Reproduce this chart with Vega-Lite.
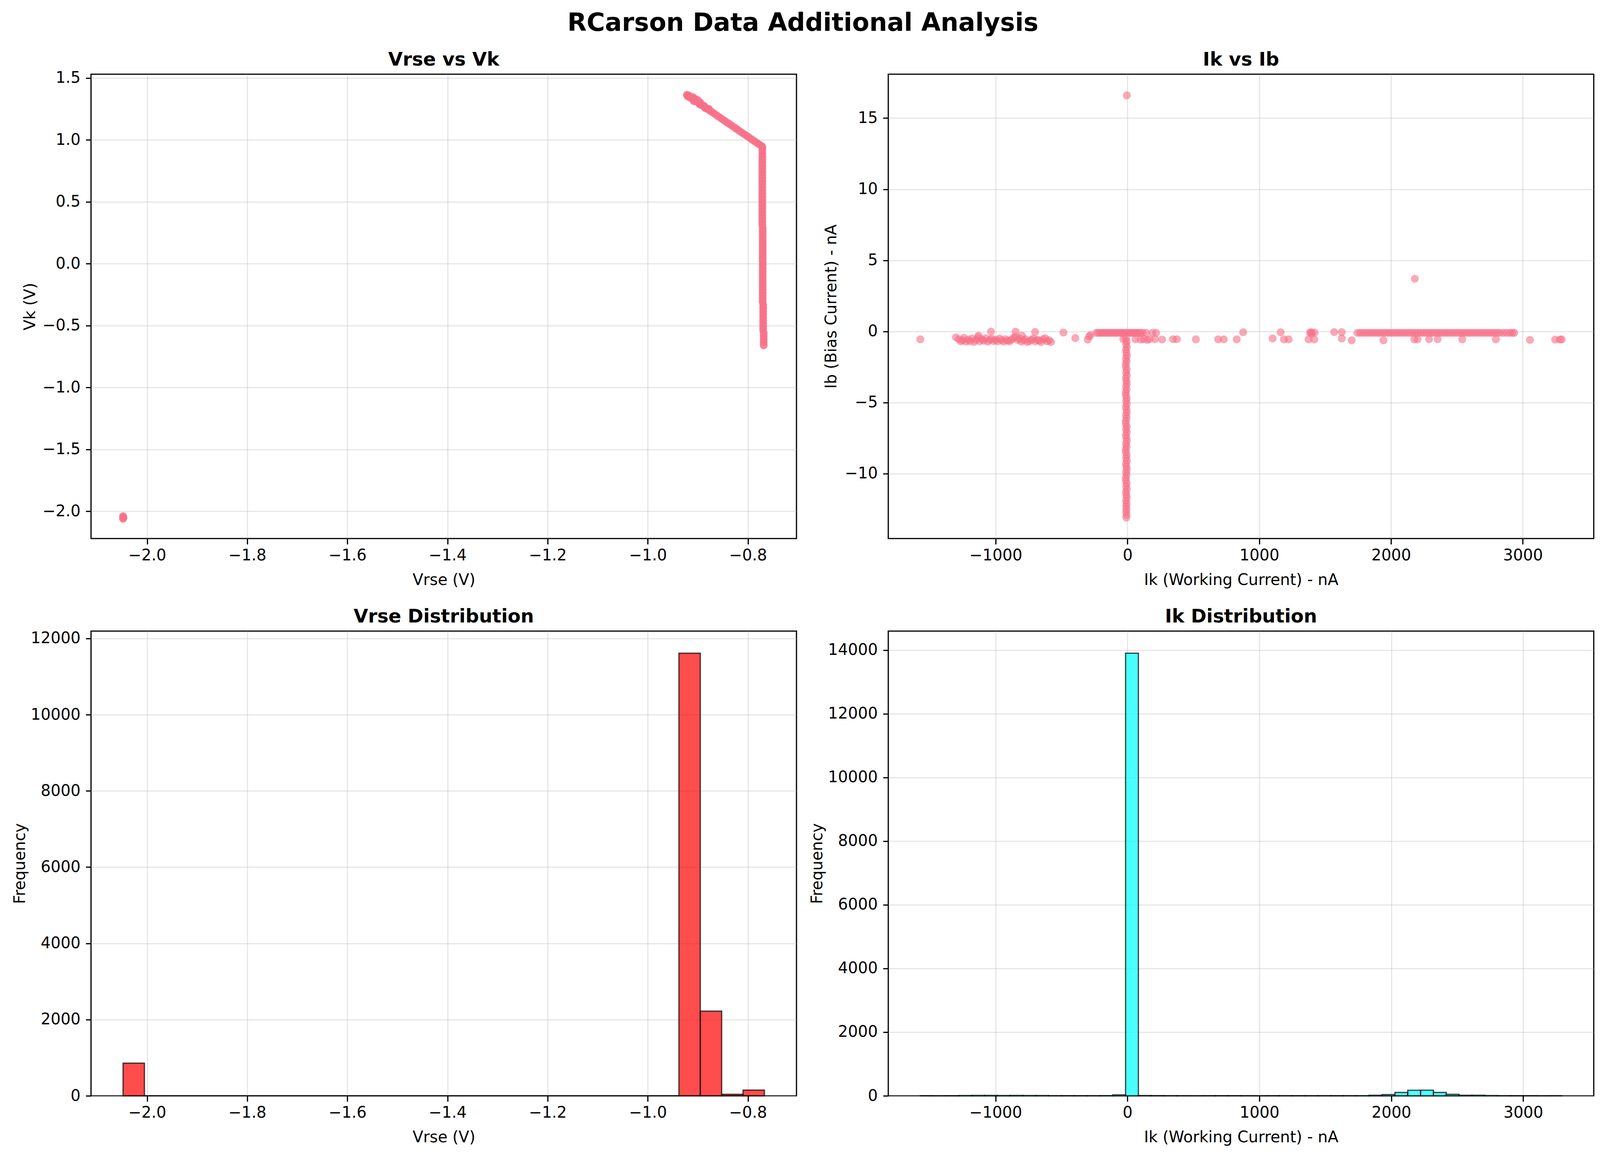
{
"$schema": "https://vega.github.io/schema/vega-lite/v6.json",
"background": "white",
"padding": {"left": 29, "top": 27, "right": 15, "bottom": 5},
"title": {"text": "RCarson Data Additional Analysis", "fontSize": 64, "fontWeight": "bold", "font": "DejaVu Sans", "anchor": "middle", "frame": "bounds", "offset": -27, "color": "black", "baseline": "bottom"},
"config": {
  "font": "DejaVu Sans",
  "view": {"stroke": "black", "strokeWidth": 3.1},
  "axis": {"labelFont": "DejaVu Sans", "labelFontSize": 40, "labelColor": "black", "titleFont": "DejaVu Sans", "titleFontSize": 40, "titleFontWeight": "normal", "titleColor": "black", "tickColor": "black", "tickWidth": 3.1, "domain": false, "grid": true, "gridColor": "#b0b0b0", "gridOpacity": 0.3, "gridWidth": 3.1, "titleBaseline": "middle", "zindex": 1, "labelFlush": false, "labelOverlap": false},
  "axisX": {"labelPadding": 9, "tickSize": 14.6},
  "axisY": {"labelPadding": 14, "tickSize": 13.4},
  "title": {"fontSize": 48, "fontWeight": "bold", "font": "DejaVu Sans", "color": "black", "baseline": "alphabetic", "anchor": "middle"}
},
"datasets": {
  "s1": [
    {"vrse":-0.922,"vk":1.363},{"vrse":-0.917,"vk":1.349},{"vrse":-0.912,"vk":1.335},{"vrse":-0.907,"vk":1.321},{"vrse":-0.902,"vk":1.308},{"vrse":-0.897,"vk":1.294},{"vrse":-0.892,"vk":1.280},{"vrse":-0.887,"vk":1.266},{"vrse":-0.882,"vk":1.252},{"vrse":-0.877,"vk":1.238},{"vrse":-0.872,"vk":1.225},{"vrse":-0.867,"vk":1.211},{"vrse":-0.862,"vk":1.197},{"vrse":-0.857,"vk":1.183},{"vrse":-0.852,"vk":1.169},{"vrse":-0.847,"vk":1.155},{"vrse":-0.842,"vk":1.141},{"vrse":-0.837,"vk":1.128},{"vrse":-0.832,"vk":1.114},{"vrse":-0.827,"vk":1.100},{"vrse":-0.822,"vk":1.086},{"vrse":-0.817,"vk":1.072},{"vrse":-0.812,"vk":1.058},{"vrse":-0.807,"vk":1.045},{"vrse":-0.802,"vk":1.031},{"vrse":-0.797,"vk":1.017},{"vrse":-0.792,"vk":1.003},{"vrse":-0.787,"vk":0.989},{"vrse":-0.782,"vk":0.975},{"vrse":-0.777,"vk":0.962},{"vrse":-0.772,"vk":0.948},
    {"vrse":-0.918,"vk":1.358},{"vrse":-0.915,"vk":1.340},{"vrse":-0.905,"vk":1.330},{"vrse":-0.895,"vk":1.300},{"vrse":-0.910,"vk":1.345},{"vrse":-0.920,"vk":1.350},{"vrse":-0.900,"vk":1.320},{"vrse":-0.888,"vk":1.275},{"vrse":-0.885,"vk":1.255},{"vrse":-0.878,"vk":1.250},{"vrse":-0.908,"vk":1.312},{"vrse":-0.896,"vk":1.285},
    {"vrse":-0.7712,"vk":0.94},{"vrse":-0.7712,"vk":0.915},{"vrse":-0.7712,"vk":0.89},{"vrse":-0.7712,"vk":0.865},{"vrse":-0.7712,"vk":0.84},{"vrse":-0.7712,"vk":0.815},{"vrse":-0.7712,"vk":0.79},{"vrse":-0.7712,"vk":0.765},{"vrse":-0.7712,"vk":0.74},{"vrse":-0.7712,"vk":0.715},{"vrse":-0.7712,"vk":0.69},{"vrse":-0.7712,"vk":0.665},{"vrse":-0.7712,"vk":0.64},{"vrse":-0.7712,"vk":0.615},{"vrse":-0.7712,"vk":0.59},{"vrse":-0.7712,"vk":0.565},{"vrse":-0.7712,"vk":0.54},{"vrse":-0.7712,"vk":0.515},{"vrse":-0.7712,"vk":0.49},{"vrse":-0.7712,"vk":0.465},{"vrse":-0.7712,"vk":0.44},{"vrse":-0.7712,"vk":0.415},{"vrse":-0.7712,"vk":0.39},{"vrse":-0.7712,"vk":0.365},{"vrse":-0.7712,"vk":0.34},{"vrse":-0.7712,"vk":0.315},
    {"vrse":-0.7705,"vk":0.29},{"vrse":-0.7705,"vk":0.265},{"vrse":-0.7705,"vk":0.24},{"vrse":-0.7705,"vk":0.215},{"vrse":-0.7705,"vk":0.19},{"vrse":-0.7705,"vk":0.165},{"vrse":-0.7705,"vk":0.14},{"vrse":-0.7705,"vk":0.115},{"vrse":-0.7705,"vk":0.09},{"vrse":-0.7705,"vk":0.065},{"vrse":-0.7705,"vk":0.04},{"vrse":-0.7705,"vk":0.015},{"vrse":-0.7705,"vk":-0.01},{"vrse":-0.7705,"vk":-0.035},{"vrse":-0.7705,"vk":-0.06},{"vrse":-0.7705,"vk":-0.085},{"vrse":-0.7705,"vk":-0.11},{"vrse":-0.7705,"vk":-0.135},{"vrse":-0.7705,"vk":-0.16},{"vrse":-0.7705,"vk":-0.185},{"vrse":-0.7705,"vk":-0.21},{"vrse":-0.7705,"vk":-0.235},{"vrse":-0.7705,"vk":-0.26},{"vrse":-0.7705,"vk":-0.285},{"vrse":-0.7705,"vk":-0.31},
    {"vrse":-0.7695,"vk":-0.335},{"vrse":-0.7695,"vk":-0.36},{"vrse":-0.7695,"vk":-0.385},{"vrse":-0.7695,"vk":-0.41},{"vrse":-0.7695,"vk":-0.435},{"vrse":-0.7695,"vk":-0.46},{"vrse":-0.7695,"vk":-0.485},{"vrse":-0.7695,"vk":-0.51},{"vrse":-0.7695,"vk":-0.535},
    {"vrse":-0.7685,"vk":-0.56},{"vrse":-0.7685,"vk":-0.585},{"vrse":-0.7685,"vk":-0.61},{"vrse":-0.7685,"vk":-0.635},{"vrse":-0.7685,"vk":-0.66},
    {"vrse":-2.048,"vk":-2.04},{"vrse":-2.048,"vk":-2.06},{"vrse":-2.047,"vk":-2.05}
  ],
  "s2": [
    {"ik":-12,"ib":-0.5},{"ik":-6,"ib":-0.7},{"ik":-10,"ib":-0.9},{"ik":-5,"ib":-1.1},{"ik":-12,"ib":-1.3},{"ik":-8,"ib":-1.5},{"ik":-5,"ib":-1.7},{"ik":-11,"ib":-1.9},{"ik":-7,"ib":-2.1},{"ik":-13,"ib":-2.3},
    {"ik":-12,"ib":-2.5},{"ik":-6,"ib":-2.7},{"ik":-10,"ib":-2.9},{"ik":-5,"ib":-3.1},{"ik":-12,"ib":-3.3},{"ik":-8,"ib":-3.5},{"ik":-5,"ib":-3.7},{"ik":-11,"ib":-3.9},{"ik":-7,"ib":-4.1},{"ik":-13,"ib":-4.3},
    {"ik":-12,"ib":-4.5},{"ik":-6,"ib":-4.7},{"ik":-10,"ib":-4.9},{"ik":-5,"ib":-5.1},{"ik":-12,"ib":-5.3},{"ik":-8,"ib":-5.5},{"ik":-5,"ib":-5.7},{"ik":-11,"ib":-5.9},{"ik":-7,"ib":-6.1},{"ik":-13,"ib":-6.3},
    {"ik":-12,"ib":-6.5},{"ik":-6,"ib":-6.7},{"ik":-10,"ib":-6.9},{"ik":-5,"ib":-7.1},{"ik":-12,"ib":-7.3},{"ik":-8,"ib":-7.5},{"ik":-5,"ib":-7.7},{"ik":-11,"ib":-7.9},{"ik":-7,"ib":-8.1},{"ik":-13,"ib":-8.3},
    {"ik":-12,"ib":-8.5},{"ik":-6,"ib":-8.7},{"ik":-10,"ib":-8.9},{"ik":-5,"ib":-9.1},{"ik":-12,"ib":-9.3},{"ik":-8,"ib":-9.5},{"ik":-5,"ib":-9.7},{"ik":-11,"ib":-9.9},{"ik":-7,"ib":-10.1},{"ik":-13,"ib":-10.3},
    {"ik":-12,"ib":-10.5},{"ik":-6,"ib":-10.7},{"ik":-10,"ib":-10.9},{"ik":-5,"ib":-11.1},{"ik":-12,"ib":-11.3},{"ik":-8,"ib":-11.5},{"ik":-5,"ib":-11.7},{"ik":-11,"ib":-11.9},{"ik":-7,"ib":-12.1},{"ik":-9,"ib":-12.3},
    {"ik":-8,"ib":-12.5},{"ik":-10,"ib":-12.7},{"ik":-7,"ib":-12.9},{"ik":-9,"ib":-13.1},{"ik":-32,"ib":-0.55},
    {"ik":-236,"ib":-0.1},{"ik":-222,"ib":-0.1},{"ik":-208,"ib":-0.1},{"ik":-194,"ib":-0.1},{"ik":-180,"ib":-0.1},{"ik":-166,"ib":-0.1},{"ik":-152,"ib":-0.1},{"ik":-138,"ib":-0.1},{"ik":-124,"ib":-0.1},{"ik":-110,"ib":-0.1},{"ik":-96,"ib":-0.1},{"ik":-82,"ib":-0.1},{"ik":-68,"ib":-0.1},{"ik":-54,"ib":-0.1},{"ik":-40,"ib":-0.1},{"ik":-26,"ib":-0.1},{"ik":-12,"ib":-0.1},{"ik":2,"ib":-0.1},{"ik":16,"ib":-0.1},{"ik":30,"ib":-0.1},{"ik":44,"ib":-0.1},{"ik":58,"ib":-0.1},{"ik":72,"ib":-0.1},{"ik":86,"ib":-0.1},{"ik":100,"ib":-0.1},{"ik":114,"ib":-0.1},
    {"ik":141,"ib":-0.1},{"ik":190,"ib":-0.1},{"ik":217,"ib":-0.1},
    {"ik":60,"ib":-0.55},{"ik":122,"ib":-0.55},{"ik":168,"ib":-0.55},{"ik":209,"ib":-0.55},{"ik":263,"ib":-0.57},{"ik":345,"ib":-0.55},{"ik":375,"ib":-0.55},{"ik":519,"ib":-0.56},{"ik":688,"ib":-0.56},{"ik":731,"ib":-0.56},{"ik":829,"ib":-0.56},{"ik":100,"ib":-0.58},{"ik":150,"ib":-0.6},
    {"ik":-1280,"ib":-0.55},{"ik":-1265,"ib":-0.7},{"ik":-1250,"ib":-0.62},{"ik":-1240,"ib":-0.45},{"ik":-1225,"ib":-0.72},{"ik":-1210,"ib":-0.58},{"ik":-1195,"ib":-0.68},{"ik":-1180,"ib":-0.5},{"ik":-1165,"ib":-0.75},{"ik":-1150,"ib":-0.6},{"ik":-1135,"ib":-0.42},{"ik":-1120,"ib":-0.7},{"ik":-1105,"ib":-0.55},{"ik":-1090,"ib":-0.65},{"ik":-1075,"ib":-0.48},{"ik":-1060,"ib":-0.72},{"ik":-1045,"ib":-0.6},{"ik":-1030,"ib":-0.52},{"ik":-1015,"ib":-0.68},{"ik":-1000,"ib":-0.58},{"ik":-985,"ib":-0.7},{"ik":-970,"ib":-0.5},{"ik":-955,"ib":-0.62},{"ik":-940,"ib":-0.72},{"ik":-925,"ib":-0.55},{"ik":-910,"ib":-0.65},{"ik":-895,"ib":-0.7},{"ik":-880,"ib":-0.58},{"ik":-865,"ib":-0.45},{"ik":-850,"ib":-0.38},{"ik":-835,"ib":-0.6},{"ik":-820,"ib":-0.5},{"ik":-805,"ib":-0.72},{"ik":-790,"ib":-0.62},{"ik":-775,"ib":-0.55},{"ik":-760,"ib":-0.75},{"ik":-745,"ib":-0.68},{"ik":-730,"ib":-0.6},{"ik":-715,"ib":-0.5},{"ik":-700,"ib":-0.7},{"ik":-685,"ib":-0.58},{"ik":-670,"ib":-0.65},{"ik":-655,"ib":-0.75},{"ik":-640,"ib":-0.55},{"ik":-625,"ib":-0.48},{"ik":-610,"ib":-0.7},{"ik":-595,"ib":-0.62},{"ik":-580,"ib":-0.75},
    {"ik":-1036,"ib":-0.02},{"ik":-849,"ib":-0.02},{"ik":-701,"ib":-0.04},{"ik":-486,"ib":-0.08},{"ik":-1130,"ib":-0.3},{"ik":-800,"ib":-0.3},
    {"ik":-1572,"ib":-0.56},{"ik":-1302,"ib":-0.42},{"ik":-396,"ib":-0.47},{"ik":-302,"ib":-0.58},{"ik":-281,"ib":-0.26},{"ik":-290,"ib":-0.35},
    {"ik":878,"ib":-0.06},{"ik":1101,"ib":-0.5},{"ik":1162,"ib":-0.06},{"ik":1187,"ib":-0.56},{"ik":1223,"ib":-0.56},{"ik":1374,"ib":-0.56},{"ik":1417,"ib":-0.56},{"ik":1392,"ib":-0.05},{"ik":1400,"ib":-0.15},{"ik":1385,"ib":-0.1},{"ik":1420,"ib":-0.08},{"ik":1568,"ib":-0.05},{"ik":1626,"ib":-0.05},{"ik":1626,"ib":-0.5},{"ik":1701,"ib":-0.63},
    {"ik":1745,"ib":-0.1},{"ik":1765,"ib":-0.1},{"ik":1785,"ib":-0.1},{"ik":1805,"ib":-0.1},{"ik":1825,"ib":-0.1},{"ik":1845,"ib":-0.1},{"ik":1865,"ib":-0.1},{"ik":1885,"ib":-0.1},{"ik":1905,"ib":-0.1},{"ik":1925,"ib":-0.1},{"ik":1945,"ib":-0.1},{"ik":1965,"ib":-0.1},{"ik":1985,"ib":-0.1},{"ik":2005,"ib":-0.1},{"ik":2025,"ib":-0.1},{"ik":2045,"ib":-0.1},{"ik":2065,"ib":-0.1},{"ik":2085,"ib":-0.1},{"ik":2105,"ib":-0.1},{"ik":2125,"ib":-0.1},{"ik":2145,"ib":-0.1},{"ik":2165,"ib":-0.1},{"ik":2185,"ib":-0.1},{"ik":2205,"ib":-0.1},{"ik":2225,"ib":-0.1},{"ik":2245,"ib":-0.1},{"ik":2265,"ib":-0.1},{"ik":2285,"ib":-0.1},{"ik":2305,"ib":-0.1},{"ik":2325,"ib":-0.1},{"ik":2345,"ib":-0.1},{"ik":2365,"ib":-0.1},{"ik":2385,"ib":-0.1},{"ik":2405,"ib":-0.1},{"ik":2425,"ib":-0.1},{"ik":2445,"ib":-0.1},{"ik":2465,"ib":-0.1},{"ik":2485,"ib":-0.1},{"ik":2505,"ib":-0.1},{"ik":2525,"ib":-0.1},{"ik":2545,"ib":-0.1},{"ik":2565,"ib":-0.1},{"ik":2585,"ib":-0.1},{"ik":2605,"ib":-0.1},{"ik":2625,"ib":-0.1},{"ik":2645,"ib":-0.1},{"ik":2665,"ib":-0.1},{"ik":2685,"ib":-0.1},{"ik":2705,"ib":-0.1},{"ik":2725,"ib":-0.1},{"ik":2745,"ib":-0.1},{"ik":2765,"ib":-0.1},{"ik":2785,"ib":-0.1},{"ik":2805,"ib":-0.1},{"ik":2825,"ib":-0.1},{"ik":2850,"ib":-0.1},{"ik":2875,"ib":-0.1},{"ik":2900,"ib":-0.1},{"ik":2920,"ib":-0.1},{"ik":2935,"ib":-0.1},
    {"ik":1942,"ib":-0.63},{"ik":2176,"ib":-0.56},{"ik":2201,"ib":-0.56},{"ik":2288,"ib":-0.55},{"ik":2353,"ib":-0.55},{"ik":2540,"ib":-0.56},{"ik":2795,"ib":-0.56},{"ik":3054,"ib":-0.6},{"ik":3245,"ib":-0.58},{"ik":3281,"ib":-0.58},{"ik":3295,"ib":-0.56},
    {"ik":2180,"ib":3.7},{"ik":-5,"ib":16.6}
  ],
  "h1": [
    {"b0":-2.0480,"b1":-2.0053,"n":857},{"b0":-2.0053,"b1":-1.9626,"n":0},{"b0":-1.9626,"b1":-1.9199,"n":0},{"b0":-1.9199,"b1":-1.8772,"n":0},{"b0":-1.8772,"b1":-1.8345,"n":0},{"b0":-1.8345,"b1":-1.7918,"n":0},{"b0":-1.7918,"b1":-1.7491,"n":0},{"b0":-1.7491,"b1":-1.7064,"n":0},{"b0":-1.7064,"b1":-1.6637,"n":0},{"b0":-1.6637,"b1":-1.6210,"n":0},
    {"b0":-1.6210,"b1":-1.5783,"n":0},{"b0":-1.5783,"b1":-1.5356,"n":0},{"b0":-1.5356,"b1":-1.4929,"n":0},{"b0":-1.4929,"b1":-1.4502,"n":0},{"b0":-1.4502,"b1":-1.4075,"n":0},{"b0":-1.4075,"b1":-1.3648,"n":0},{"b0":-1.3648,"b1":-1.3221,"n":0},{"b0":-1.3221,"b1":-1.2794,"n":0},{"b0":-1.2794,"b1":-1.2367,"n":0},{"b0":-1.2367,"b1":-1.1940,"n":0},
    {"b0":-1.1940,"b1":-1.1513,"n":0},{"b0":-1.1513,"b1":-1.1086,"n":0},{"b0":-1.1086,"b1":-1.0659,"n":0},{"b0":-1.0659,"b1":-1.0232,"n":0},{"b0":-1.0232,"b1":-0.9805,"n":0},{"b0":-0.9805,"b1":-0.9378,"n":0},{"b0":-0.9378,"b1":-0.8951,"n":11613},{"b0":-0.8951,"b1":-0.8524,"n":2222},{"b0":-0.8524,"b1":-0.8097,"n":40},{"b0":-0.8097,"b1":-0.7670,"n":150}
  ],
  "h2": [
    {"b0":-1570.0,"b1":-1472.76,"n":1},{"b0":-1472.76,"b1":-1375.52,"n":0},{"b0":-1375.52,"b1":-1278.28,"n":1},{"b0":-1278.28,"b1":-1181.04,"n":8},{"b0":-1181.04,"b1":-1083.8,"n":12},{"b0":-1083.8,"b1":-986.56,"n":10},{"b0":-986.56,"b1":-889.32,"n":9},{"b0":-889.32,"b1":-792.08,"n":11},{"b0":-792.08,"b1":-694.84,"n":9},{"b0":-694.84,"b1":-597.6,"n":8},
    {"b0":-597.6,"b1":-500.36,"n":2},{"b0":-500.36,"b1":-403.12,"n":1},{"b0":-403.12,"b1":-305.88,"n":1},{"b0":-305.88,"b1":-208.64,"n":2},{"b0":-208.64,"b1":-111.4,"n":6},{"b0":-111.4,"b1":-14.16,"n":28},{"b0":-14.16,"b1":83.08,"n":13900},{"b0":83.08,"b1":180.32,"n":8},{"b0":180.32,"b1":277.56,"n":4},{"b0":277.56,"b1":374.8,"n":3},
    {"b0":374.8,"b1":472.04,"n":2},{"b0":472.04,"b1":569.28,"n":0},{"b0":569.28,"b1":666.52,"n":1},{"b0":666.52,"b1":763.76,"n":1},{"b0":763.76,"b1":861.0,"n":1},{"b0":861.0,"b1":958.24,"n":2},{"b0":958.24,"b1":1055.48,"n":0},{"b0":1055.48,"b1":1152.72,"n":1},{"b0":1152.72,"b1":1249.96,"n":2},{"b0":1249.96,"b1":1347.2,"n":1},
    {"b0":1347.2,"b1":1444.44,"n":2},{"b0":1444.44,"b1":1541.68,"n":3},{"b0":1541.68,"b1":1638.92,"n":1},{"b0":1638.92,"b1":1736.16,"n":2},{"b0":1736.16,"b1":1833.4,"n":3},{"b0":1833.4,"b1":1930.64,"n":18},{"b0":1930.64,"b1":2027.88,"n":40},{"b0":2027.88,"b1":2125.12,"n":105},{"b0":2125.12,"b1":2222.36,"n":175},{"b0":2222.36,"b1":2319.6,"n":178},
    {"b0":2319.6,"b1":2416.84,"n":105},{"b0":2416.84,"b1":2514.08,"n":48},{"b0":2514.08,"b1":2611.32,"n":18},{"b0":2611.32,"b1":2708.56,"n":18},{"b0":2708.56,"b1":2805.8,"n":8},{"b0":2805.8,"b1":2903.04,"n":3},{"b0":2903.04,"b1":3000.28,"n":1},{"b0":3000.28,"b1":3097.52,"n":1},{"b0":3097.52,"b1":3194.76,"n":0},{"b0":3194.76,"b1":3292.0,"n":3}
  ]
},
"columns": 2,
"spacing": {"row": 236, "column": 235},
"bounds": "flush",
"align": "all",
"concat": [
  {
    "width": 1806, "height": 1189,
    "title": {"text": "Vrse vs Vk", "offset": 1.3},
    "data": {"name": "s1"},
    "mark": {"type": "circle", "size": 330, "color": "#f77189", "opacity": 0.85, "stroke": "#f77189", "strokeWidth": 2},
    "encoding": {
      "x": {"field": "vrse", "type": "quantitative", "scale": {"domain": [-2.112, -0.703], "nice": false, "zero": false}, "axis": {"title": "Vrse (V)", "values": [-2.0, -1.8, -1.6, -1.4, -1.2, -1.0, -0.8], "format": ".1f", "titleY": 106}},
      "y": {"field": "vk", "type": "quantitative", "scale": {"domain": [-2.22, 1.53], "nice": false, "zero": false}, "axis": {"title": "Vk (V)", "values": [-2.0, -1.5, -1.0, -0.5, 0.0, 0.5, 1.0, 1.5], "format": ".1f", "titleX": -156}}
    }
  },
  {
    "width": 1806, "height": 1189,
    "title": {"text": "Ik vs Ib", "offset": 11.8},
    "data": {"name": "s2"},
    "mark": {"type": "circle", "size": 330, "color": "#f77189", "opacity": 0.6, "stroke": "#f77189", "strokeWidth": 2.2},
    "encoding": {
      "x": {"field": "ik", "type": "quantitative", "scale": {"domain": [-1815, 3538], "nice": false, "zero": false}, "axis": {"title": "Ik (Working Current) - nA", "values": [-1000, 0, 1000, 2000, 3000], "format": "d", "titleY": 106}},
      "y": {"field": "ib", "type": "quantitative", "scale": {"domain": [-14.57, 18.09], "nice": false, "zero": false}, "axis": {"title": "Ib (Bias Current) - nA", "values": [-10, -5, 0, 5, 10, 15], "format": "d", "titleX": -146}}
    }
  },
  {
    "width": 1806, "height": 1190,
    "title": {"text": "Vrse Distribution", "offset": 10.7},
    "data": {"name": "h1"},
    "mark": {"type": "bar", "fill": "#ff0000", "fillOpacity": 0.7, "stroke": "black", "strokeOpacity": 0.7, "strokeWidth": 3.2},
    "encoding": {
      "x": {"field": "b0", "type": "quantitative", "scale": {"domain": [-2.112, -0.703], "nice": false, "zero": false}, "axis": {"title": "Vrse (V)", "values": [-2.0, -1.8, -1.6, -1.4, -1.2, -1.0, -0.8], "format": ".1f", "titleY": 106}},
      "x2": {"field": "b1"},
      "y": {"field": "n", "type": "quantitative", "scale": {"domain": [0, 12194], "nice": false}, "axis": {"title": "Frequency", "values": [0, 2000, 4000, 6000, 8000, 10000, 12000], "format": "d", "titleX": -182}},
      "y2": {"datum": 0}
    }
  },
  {
    "width": 1806, "height": 1190,
    "title": {"text": "Ik Distribution", "offset": 11.8},
    "data": {"name": "h2"},
    "mark": {"type": "bar", "fill": "#00ffff", "fillOpacity": 0.7, "stroke": "black", "strokeOpacity": 0.7, "strokeWidth": 3.2},
    "encoding": {
      "x": {"field": "b0", "type": "quantitative", "scale": {"domain": [-1813, 3535], "nice": false, "zero": false}, "axis": {"title": "Ik (Working Current) - nA", "values": [-1000, 0, 1000, 2000, 3000], "format": "d", "titleY": 106}},
      "x2": {"field": "b1"},
      "y": {"field": "n", "type": "quantitative", "scale": {"domain": [0, 14595], "nice": false}, "axis": {"title": "Frequency", "values": [0, 2000, 4000, 6000, 8000, 10000, 12000, 14000], "format": "d", "titleX": -182}},
      "y2": {"datum": 0}
    }
  }
]
}
